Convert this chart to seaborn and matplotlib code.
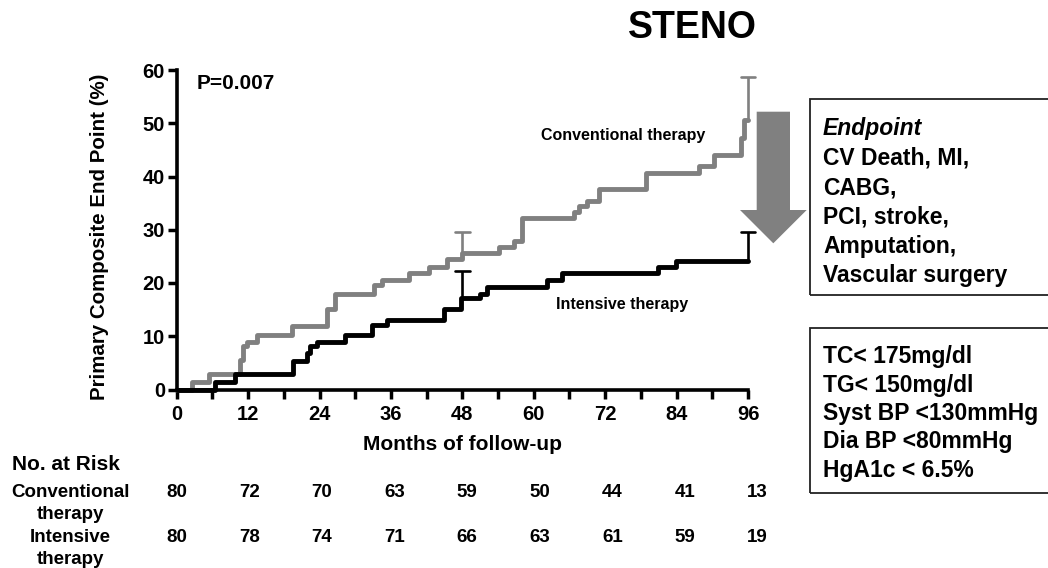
import numpy as np
import pandas as pd
import matplotlib
matplotlib.use("Agg")
import matplotlib.pyplot as plt
import matplotlib.transforms as mtransforms
from matplotlib.patches import Rectangle, Polygon
import seaborn as sns

# ---------------- data ----------------
conv_months = [0, 2.5, 5.4, 10.7, 11.2, 11.8, 13.5, 19.4, 25.3, 26.6, 33.1, 34.5, 39.0, 42.4,
               45.5, 48.0, 54.1, 56.7, 58.1, 66.8, 67.6, 69.0, 71.0, 78.8, 87.8, 90.3, 94.8,
               95.4, 96.0]
conv_pct = [0, 1.4, 3.0, 5.6, 8.1, 9.0, 10.2, 11.9, 15.2, 18.0, 19.6, 20.5, 21.9, 23.0,
            24.5, 25.6, 26.7, 27.9, 32.3, 33.3, 34.5, 35.4, 37.6, 40.7, 41.9, 44.1, 47.2,
            50.6, 50.6]
int_months = [0, 6.4, 9.8, 19.6, 21.9, 22.4, 23.6, 28.3, 32.8, 35.4, 44.9, 47.7, 51.0, 52.2,
              62.3, 64.8, 80.8, 83.9, 96.0]
int_pct = [0, 1.5, 3.0, 5.3, 6.8, 8.1, 9.0, 10.2, 12.1, 13.0, 15.2, 17.1, 18.0, 19.2,
           20.5, 21.8, 23.0, 24.2, 24.2]

err_months = [48, 96]
conv_upper = [29.6, 58.7]
int_upper = [22.2, 29.5]

groups = ["Conventional therapy", "Intensive therapy"]
risk_months = [0, 12, 24, 36, 48, 60, 72, 84, 96]
risk_conv = [80, 72, 70, 63, 59, 50, 44, 41, 13]
risk_int = [80, 78, 74, 71, 66, 63, 61, 59, 19]

endpoint_lines = ["CV Death, MI,", "CABG,", "PCI, stroke,", "Amputation,", "Vascular surgery"]
target_lines = ["TC< 175mg/dl", "TG< 150mg/dl", "Syst BP <130mmHg", "Dia BP <80mmHg", "HgA1c < 6.5%"]

# ---------------- style ----------------
sns.set_style("ticks")
plt.rcParams["font.family"] = ["Liberation Sans", "DejaVu Sans"]
plt.rcParams["font.weight"] = "bold"
plt.rcParams["text.color"] = "black"
plt.rcParams["axes.labelcolor"] = "black"
plt.rcParams["xtick.color"] = "black"
plt.rcParams["ytick.color"] = "black"

W, H = 1048, 568
fig = plt.figure(figsize=(W / 100, H / 100), dpi=100)

def px(x, y):
    return (x / W, 1 - y / H)

x0, x1, y0, y1 = 176.7, 748.0, 389.5, 70.0
ax = fig.add_axes([x0 / W, 1 - y0 / H, (x1 - x0) / W, (y0 - y1) / H])

df = pd.concat([
    pd.DataFrame({"Month": conv_months, "Pct": conv_pct, "Therapy": groups[0]}),
    pd.DataFrame({"Month": int_months, "Pct": int_pct, "Therapy": groups[1]}),
])
palette = {groups[0]: "#808080", groups[1]: "#000000"}
sns.lineplot(data=df, x="Month", y="Pct", hue="Therapy", palette=palette,
             drawstyle="steps-post", estimator=None, linewidth=3.5, legend=False,
             ax=ax, clip_on=False)

def step_value(ms, vs, m):
    i = np.searchsorted(ms, m, side="right") - 1
    return vs[i]

cap = 1.25
for months, vals, upper, col in [(conv_months, conv_pct, conv_upper, "#808080"),
                                 (int_months, int_pct, int_upper, "#000000")]:
    for m, up in zip(err_months, upper):
        lo = step_value(months, vals, m)
        ax.plot([m, m], [lo, up], color=col, lw=1.9, clip_on=False, solid_capstyle="butt")
        ax.plot([m - cap, m + cap], [up, up], color=col, lw=1.9, clip_on=False)

ax.set_xlim(0, 96)
ax.set_ylim(0, 60)
xt = np.arange(0, 97, 6)
ax.set_xticks(xt)
ax.set_xticklabels([str(v) if v % 12 == 0 else "" for v in xt])
ax.set_yticks(np.arange(0, 61, 10))
ax.tick_params(axis="both", width=2.5, length=6.5, labelsize=14.5, color="black", labelcolor="black")
ax.tick_params(axis="x", pad=5)
ax.tick_params(axis="y", pad=2)
for s in ["top", "right"]:
    ax.spines[s].set_visible(False)
for s in ["left", "bottom"]:
    ax.spines[s].set_linewidth(2.6)
    ax.spines[s].set_color("black")
ax.set_xlabel("")
ax.set_ylabel("")

ax.text(3.4, 56.5, "P=0.007", fontsize=15, ha="left", va="baseline")
ax.text(75.1, 46.9, groups[0], fontsize=11.5, ha="center", va="baseline")
ax.text(74.9, 15.2, groups[1], fontsize=11.5, ha="center", va="baseline")

# axis titles & headline
fig.text(*px(462.5, 450), "Months of follow-up", fontsize=15, ha="center", va="baseline")
fig.text(*px(100, 236.5), "Primary Composite End Point (%)", fontsize=14.8, rotation=90,
         ha="center", va="center")
fig.text(*px(692.5, 38.3), "STENO", fontsize=27, ha="center", va="baseline")

# number at risk table
fig.text(*px(12, 470), "No. at Risk", fontsize=15, ha="left", va="baseline")
fig.text(*px(70, 496.7), "Conventional", fontsize=13.5, ha="center", va="baseline")
fig.text(*px(70, 519), "therapy", fontsize=13.5, ha="center", va="baseline")
fig.text(*px(70, 541.7), "Intensive", fontsize=13.5, ha="center", va="baseline")
fig.text(*px(70, 564), "therapy", fontsize=13.5, ha="center", va="baseline")
trans = mtransforms.blended_transform_factory(ax.transData, fig.transFigure)
drift = np.linspace(0, 1.6, len(risk_months))
for m, d, a, b in zip(risk_months, drift, risk_conv, risk_int):
    ax.text(m + d, 1 - 496.7 / H, str(a), transform=trans, fontsize=13.5, ha="center",
            va="baseline", clip_on=False)
    ax.text(m + d, 1 - 541.7 / H, str(b), transform=trans, fontsize=13.5, ha="center",
            va="baseline", clip_on=False)

# arrow
arrow_px = [(756.7, 111.7), (790, 111.7), (790, 210), (806.7, 210), (773.3, 243.3),
            (740, 210), (756.7, 210)]
fig.add_artist(Polygon([px(*p) for p in arrow_px], closed=True, transform=fig.transFigure,
                       fc="#808080", ec="none"))

# boxes
for top, bot in [(99.3, 295), (328.3, 493.3)]:
    fig.add_artist(Rectangle(px(810, bot), (1070 - 810) / W, (bot - top) / H,
                             transform=fig.transFigure, fill=False, ec="#222222", lw=1.3))

fig.text(*px(823, 135), "Endpoint", fontsize=16.5, style="italic", ha="left", va="baseline")
for i, t in enumerate(endpoint_lines):
    fig.text(*px(823, 165 + 29.2 * i), t, fontsize=16.5, ha="left", va="baseline")
for i, t in enumerate(target_lines):
    fig.text(*px(823, 363.3 + 28.3 * i), t, fontsize=16.5, ha="left", va="baseline")

fig.savefig("out.png", dpi=100)
